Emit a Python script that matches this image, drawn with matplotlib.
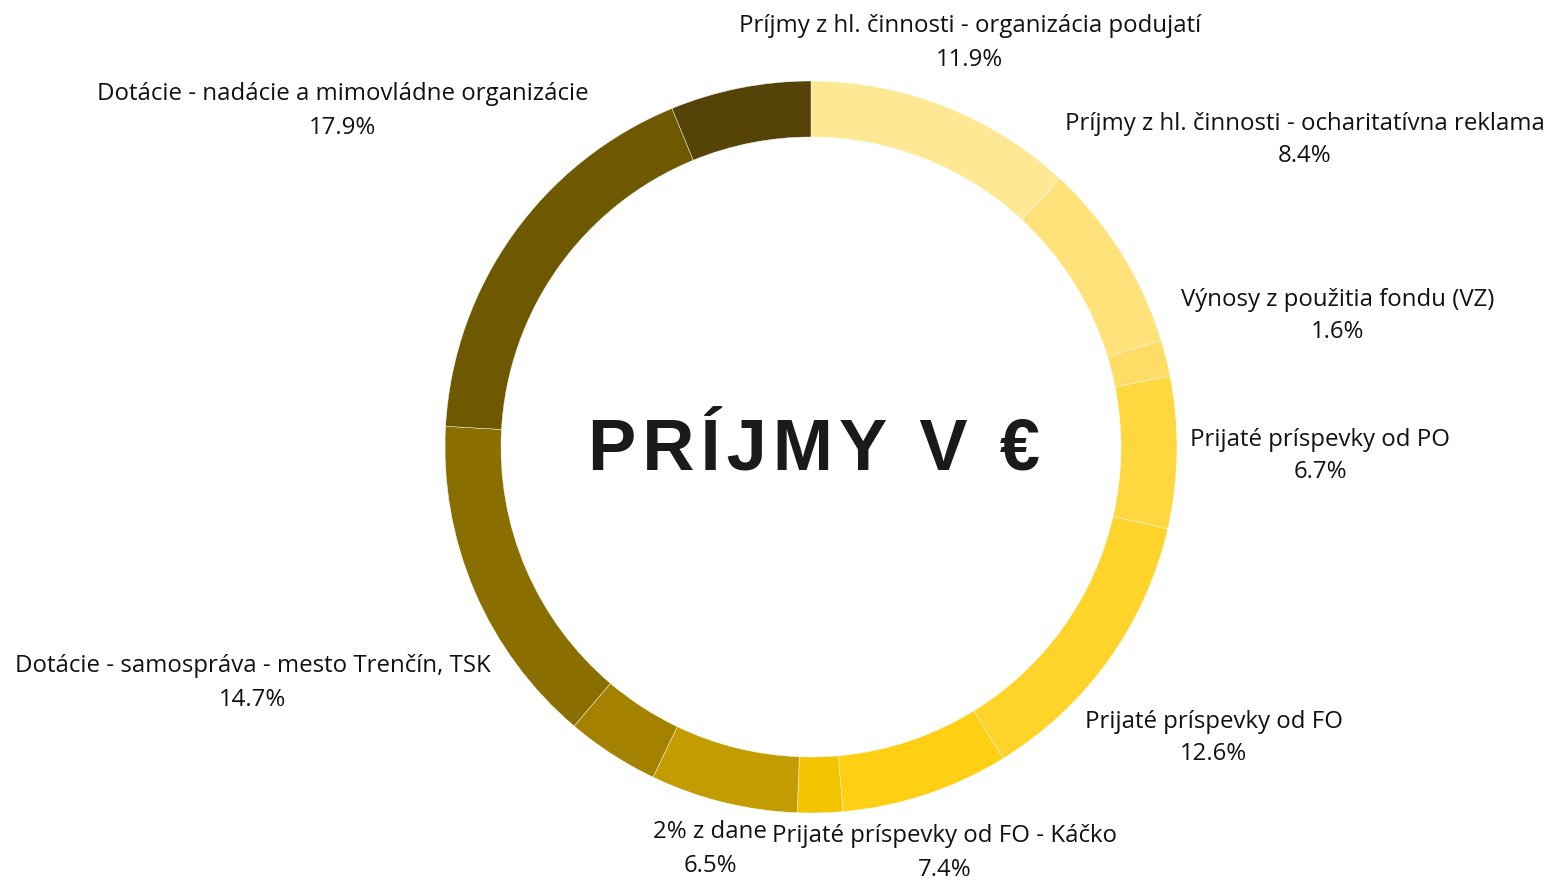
import matplotlib
matplotlib.use("Agg")
import matplotlib.pyplot as plt

# Data (clockwise from 12 o'clock)
categories = [
    "Príjmy z hl. činnosti - organizácia podujatí",
    "Príjmy z hl. činnosti - ocharitatívna reklama",
    "Výnosy z použitia fondu (VZ)",
    "Prijaté príspevky od PO",
    "Prijaté príspevky od FO",
    "Prijaté príspevky od FO - Káčko",
    "",
    "2% z dane",
    "",
    "Dotácie - samospráva - mesto Trenčín, TSK",
    "Dotácie - nadácie a mimovládne organizácie",
    "",
]
values = [11.9, 8.4, 1.6, 6.7, 12.6, 7.4, 2.0, 6.5, 4.1, 14.7, 17.9, 6.2]
colors = ["#FFE894", "#FFE27A", "#FFDC66", "#FFD840", "#FFD42A", "#FFCF14",
          "#F5C400", "#C29C00", "#A48200", "#8A6E00", "#6E5900", "#554308"]

# label block centres in pixels (x, y from top)
label_pos = [(970, 43), (1305, 140), (1338, 316), (1320, 456), (1214, 738),
             (945, 853), None, (710, 849), None, (253, 683), (343, 111), None]

W, H = 1549, 882
fig = plt.figure(figsize=(W / 100, H / 100), dpi=100)
ax = fig.add_axes([0, 0, 1, 1])

cx, cy = 811, H - 447
ax.pie(values, colors=colors, startangle=90, counterclock=False,
       center=(cx, cy), radius=366, frame=True,
       wedgeprops=dict(width=56, edgecolor="#ffffff", linewidth=0.3))
ax.set_xlim(0, W)
ax.set_ylim(0, H)
ax.set_aspect("equal")
ax.axis("off")

font = ["Open Sans", "DejaVu Sans"]
for name, v, pos in zip(categories, values, label_pos):
    if pos is None:
        continue
    ax.text(pos[0], H - pos[1], "%s\n%.1f%%" % (name, v), ha="center", va="center",
            multialignment="center", fontsize=17.3, linespacing=1.5,
            color="#111111", family=font)

# title with letter spacing
title = "PRÍJMY V €"
ax.text(cx + 3, cy - 3, "\u200a".join(title), ha="center", va="center",
        fontsize=52, fontweight="bold",
        color="#1a1a1a", family=["Liberation Sans", "DejaVu Sans"])

fig.savefig("out.png", dpi=100)
